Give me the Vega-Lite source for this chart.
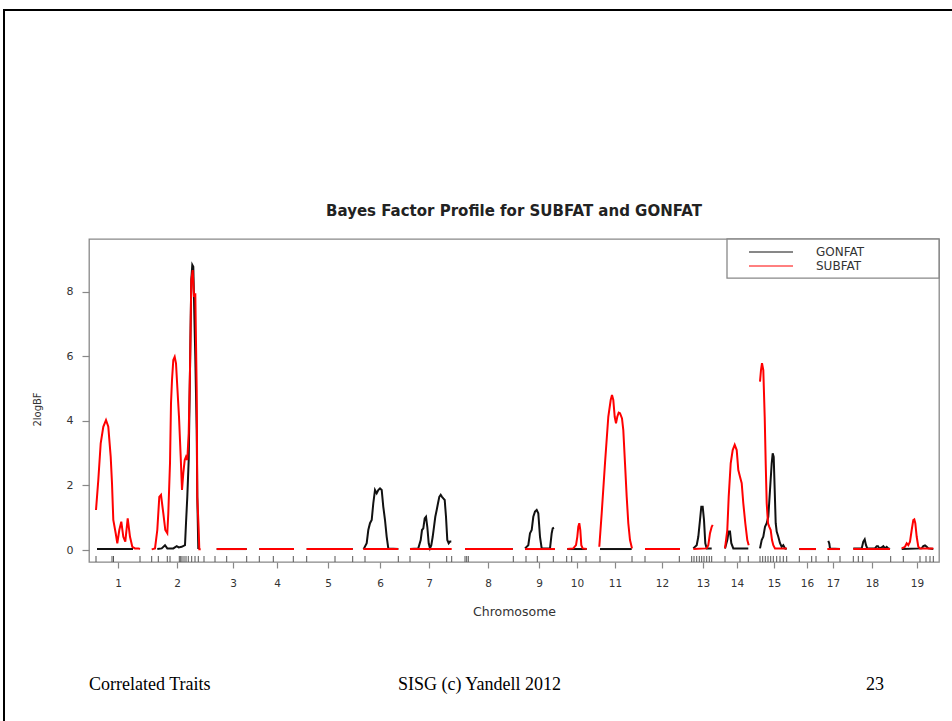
{
  "$schema": "https://vega.github.io/schema/vega-lite/v6.json",
  "width": 850,
  "height": 323,
  "autosize": {"type": "none"},
  "padding": {"left": 89, "top": 239, "right": 13, "bottom": 159},
  "background": "white",
  "title": {
    "text": "Bayes Factor Profile for SUBFAT and GONFAT",
    "frame": "group",
    "font": "DejaVu Sans",
    "fontSize": 15,
    "fontWeight": "bold",
    "color": "#222",
    "anchor": "middle",
    "baseline": "alphabetic",
    "offset": 0,
    "dy": 222
  },
  "datasets": {
    "profile": [
      {"trait":"GONFAT","chrom":1,"pos":8,"bf":0.03},{"trait":"GONFAT","chrom":1,"pos":44,"bf":0.03},
      {"trait":"GONFAT","chrom":2,"pos":68.3,"bf":0.03},{"trait":"GONFAT","chrom":2,"pos":72.7,"bf":0.05},{"trait":"GONFAT","chrom":2,"pos":76,"bf":0.15},{"trait":"GONFAT","chrom":2,"pos":78.3,"bf":0.05},{"trait":"GONFAT","chrom":2,"pos":84.3,"bf":0.05},{"trait":"GONFAT","chrom":2,"pos":87.7,"bf":0.12},{"trait":"GONFAT","chrom":2,"pos":89.7,"bf":0.08},{"trait":"GONFAT","chrom":2,"pos":92.7,"bf":0.10},{"trait":"GONFAT","chrom":2,"pos":96,"bf":0.15},{"trait":"GONFAT","chrom":2,"pos":97,"bf":0.83},{"trait":"GONFAT","chrom":2,"pos":98.3,"bf":1.65},{"trait":"GONFAT","chrom":2,"pos":99.7,"bf":2.79},{"trait":"GONFAT","chrom":2,"pos":101,"bf":5.58},{"trait":"GONFAT","chrom":2,"pos":102.3,"bf":8.37},{"trait":"GONFAT","chrom":2,"pos":103.3,"bf":8.84},{"trait":"GONFAT","chrom":2,"pos":104.3,"bf":8.78},{"trait":"GONFAT","chrom":2,"pos":105.3,"bf":7.34},{"trait":"GONFAT","chrom":2,"pos":106.3,"bf":5.99},{"trait":"GONFAT","chrom":2,"pos":107.7,"bf":3.72},{"trait":"GONFAT","chrom":2,"pos":108.3,"bf":1.65},{"trait":"GONFAT","chrom":2,"pos":109.3,"bf":0.03},
      {"trait":"GONFAT","chrom":3,"pos":127.7,"bf":0.03},{"trait":"GONFAT","chrom":3,"pos":157.7,"bf":0.03},
      {"trait":"GONFAT","chrom":4,"pos":170.3,"bf":0.03},{"trait":"GONFAT","chrom":4,"pos":205,"bf":0.03},
      {"trait":"GONFAT","chrom":5,"pos":217.7,"bf":0.03},{"trait":"GONFAT","chrom":5,"pos":263.7,"bf":0.03},
      {"trait":"GONFAT","chrom":6,"pos":274.3,"bf":0.03},{"trait":"GONFAT","chrom":6,"pos":275,"bf":0.05},{"trait":"GONFAT","chrom":6,"pos":277.7,"bf":0.21},{"trait":"GONFAT","chrom":6,"pos":279.3,"bf":0.62},{"trait":"GONFAT","chrom":6,"pos":281,"bf":0.83},{"trait":"GONFAT","chrom":6,"pos":282.7,"bf":0.93},{"trait":"GONFAT","chrom":6,"pos":284.3,"bf":1.45},{"trait":"GONFAT","chrom":6,"pos":286,"bf":1.86},{"trait":"GONFAT","chrom":6,"pos":287.7,"bf":1.76},{"trait":"GONFAT","chrom":6,"pos":289.3,"bf":1.86},{"trait":"GONFAT","chrom":6,"pos":291,"bf":1.91},{"trait":"GONFAT","chrom":6,"pos":292.7,"bf":1.86},{"trait":"GONFAT","chrom":6,"pos":294.3,"bf":1.34},{"trait":"GONFAT","chrom":6,"pos":296,"bf":0.93},{"trait":"GONFAT","chrom":6,"pos":297.7,"bf":0.41},{"trait":"GONFAT","chrom":6,"pos":299.3,"bf":0.05},{"trait":"GONFAT","chrom":6,"pos":309.3,"bf":0.03},
      {"trait":"GONFAT","chrom":7,"pos":321,"bf":0.03},{"trait":"GONFAT","chrom":7,"pos":329.3,"bf":0.05},{"trait":"GONFAT","chrom":7,"pos":331.7,"bf":0.31},{"trait":"GONFAT","chrom":7,"pos":333,"bf":0.62},{"trait":"GONFAT","chrom":7,"pos":334.3,"bf":0.67},{"trait":"GONFAT","chrom":7,"pos":335.7,"bf":0.98},{"trait":"GONFAT","chrom":7,"pos":337,"bf":1.03},{"trait":"GONFAT","chrom":7,"pos":338.3,"bf":0.72},{"trait":"GONFAT","chrom":7,"pos":339.7,"bf":0.21},{"trait":"GONFAT","chrom":7,"pos":341,"bf":0.05},{"trait":"GONFAT","chrom":7,"pos":342.3,"bf":0.15},{"trait":"GONFAT","chrom":7,"pos":343.7,"bf":0.41},{"trait":"GONFAT","chrom":7,"pos":345,"bf":0.72},{"trait":"GONFAT","chrom":7,"pos":346.3,"bf":1.03},{"trait":"GONFAT","chrom":7,"pos":347.7,"bf":1.24},{"trait":"GONFAT","chrom":7,"pos":349,"bf":1.45},{"trait":"GONFAT","chrom":7,"pos":350.3,"bf":1.65},{"trait":"GONFAT","chrom":7,"pos":351.7,"bf":1.71},{"trait":"GONFAT","chrom":7,"pos":353,"bf":1.65},{"trait":"GONFAT","chrom":7,"pos":354.3,"bf":1.60},{"trait":"GONFAT","chrom":7,"pos":355.7,"bf":1.55},{"trait":"GONFAT","chrom":7,"pos":357,"bf":1.03},{"trait":"GONFAT","chrom":7,"pos":358.3,"bf":0.31},{"trait":"GONFAT","chrom":7,"pos":359.7,"bf":0.21},{"trait":"GONFAT","chrom":7,"pos":361,"bf":0.26},{"trait":"GONFAT","chrom":7,"pos":362.3,"bf":0.26},
      {"trait":"GONFAT","chrom":8,"pos":376,"bf":0.03},{"trait":"GONFAT","chrom":8,"pos":423.7,"bf":0.03},
      {"trait":"GONFAT","chrom":9,"pos":436,"bf":0.05},{"trait":"GONFAT","chrom":9,"pos":439.3,"bf":0.15},{"trait":"GONFAT","chrom":9,"pos":441,"bf":0.52},{"trait":"GONFAT","chrom":9,"pos":442.7,"bf":0.62},{"trait":"GONFAT","chrom":9,"pos":444.3,"bf":1.03},{"trait":"GONFAT","chrom":9,"pos":446,"bf":1.19},{"trait":"GONFAT","chrom":9,"pos":447.7,"bf":1.24},{"trait":"GONFAT","chrom":9,"pos":449.3,"bf":1.14},{"trait":"GONFAT","chrom":9,"pos":451,"bf":0.41},{"trait":"GONFAT","chrom":9,"pos":452.7,"bf":0.05},{"trait":"GONFAT","chrom":9,"pos":461,"bf":0.05},{"trait":"GONFAT","chrom":9,"pos":462.7,"bf":0.52},{"trait":"GONFAT","chrom":9,"pos":463.7,"bf":0.67},{"trait":"GONFAT","chrom":9,"pos":465,"bf":0.69},
      {"trait":"GONFAT","chrom":10,"pos":478.3,"bf":0.03},{"trait":"GONFAT","chrom":10,"pos":497.7,"bf":0.03},
      {"trait":"GONFAT","chrom":11,"pos":511,"bf":0.03},{"trait":"GONFAT","chrom":11,"pos":542.7,"bf":0.03},
      {"trait":"GONFAT","chrom":12,"pos":556,"bf":0.03},{"trait":"GONFAT","chrom":12,"pos":591,"bf":0.03},
      {"trait":"GONFAT","chrom":13,"pos":604.3,"bf":0.05},{"trait":"GONFAT","chrom":13,"pos":607.7,"bf":0.15},{"trait":"GONFAT","chrom":13,"pos":609.3,"bf":0.41},{"trait":"GONFAT","chrom":13,"pos":611,"bf":0.93},{"trait":"GONFAT","chrom":13,"pos":612.3,"bf":1.34},{"trait":"GONFAT","chrom":13,"pos":613.7,"bf":1.34},{"trait":"GONFAT","chrom":13,"pos":615,"bf":0.93},{"trait":"GONFAT","chrom":13,"pos":616.3,"bf":0.21},{"trait":"GONFAT","chrom":13,"pos":617.7,"bf":0.05},{"trait":"GONFAT","chrom":13,"pos":622.7,"bf":0.05},
      {"trait":"GONFAT","chrom":14,"pos":636,"bf":0.05},{"trait":"GONFAT","chrom":14,"pos":638.3,"bf":0.31},{"trait":"GONFAT","chrom":14,"pos":639.7,"bf":0.57},{"trait":"GONFAT","chrom":14,"pos":641,"bf":0.57},{"trait":"GONFAT","chrom":14,"pos":642.3,"bf":0.21},{"trait":"GONFAT","chrom":14,"pos":644.3,"bf":0.05},{"trait":"GONFAT","chrom":14,"pos":659.3,"bf":0.05},
      {"trait":"GONFAT","chrom":15,"pos":671,"bf":0.05},{"trait":"GONFAT","chrom":15,"pos":672.7,"bf":0.31},{"trait":"GONFAT","chrom":15,"pos":674.3,"bf":0.41},{"trait":"GONFAT","chrom":15,"pos":676,"bf":0.72},{"trait":"GONFAT","chrom":15,"pos":677.7,"bf":0.83},{"trait":"GONFAT","chrom":15,"pos":679.3,"bf":1.03},{"trait":"GONFAT","chrom":15,"pos":681,"bf":1.86},{"trait":"GONFAT","chrom":15,"pos":682.7,"bf":2.69},{"trait":"GONFAT","chrom":15,"pos":683.7,"bf":3.00},{"trait":"GONFAT","chrom":15,"pos":684.7,"bf":2.89},{"trait":"GONFAT","chrom":15,"pos":685.7,"bf":1.86},{"trait":"GONFAT","chrom":15,"pos":686.7,"bf":0.83},{"trait":"GONFAT","chrom":15,"pos":687.7,"bf":0.57},{"trait":"GONFAT","chrom":15,"pos":689.3,"bf":0.41},{"trait":"GONFAT","chrom":15,"pos":691,"bf":0.21},{"trait":"GONFAT","chrom":15,"pos":692.7,"bf":0.10},{"trait":"GONFAT","chrom":15,"pos":694.3,"bf":0.15},{"trait":"GONFAT","chrom":15,"pos":696,"bf":0.05},{"trait":"GONFAT","chrom":15,"pos":697.7,"bf":0.03},
      {"trait":"GONFAT","chrom":16,"pos":710.3,"bf":0.03},{"trait":"GONFAT","chrom":16,"pos":727,"bf":0.03},
      {"trait":"GONFAT","chrom":17,"pos":739.3,"bf":0.28},{"trait":"GONFAT","chrom":17,"pos":740.3,"bf":0.2},{"trait":"GONFAT","chrom":17,"pos":741,"bf":0.05},{"trait":"GONFAT","chrom":17,"pos":751,"bf":0.03},
      {"trait":"GONFAT","chrom":18,"pos":764.3,"bf":0.05},{"trait":"GONFAT","chrom":18,"pos":772.7,"bf":0.05},{"trait":"GONFAT","chrom":18,"pos":774.3,"bf":0.26},{"trait":"GONFAT","chrom":18,"pos":775.7,"bf":0.33},{"trait":"GONFAT","chrom":18,"pos":777,"bf":0.15},{"trait":"GONFAT","chrom":18,"pos":778.3,"bf":0.05},{"trait":"GONFAT","chrom":18,"pos":786,"bf":0.05},{"trait":"GONFAT","chrom":18,"pos":787.7,"bf":0.12},{"trait":"GONFAT","chrom":18,"pos":789,"bf":0.12},{"trait":"GONFAT","chrom":18,"pos":790.3,"bf":0.05},{"trait":"GONFAT","chrom":18,"pos":792.7,"bf":0.08},{"trait":"GONFAT","chrom":18,"pos":794.3,"bf":0.12},{"trait":"GONFAT","chrom":18,"pos":796,"bf":0.05},{"trait":"GONFAT","chrom":18,"pos":797.7,"bf":0.10},{"trait":"GONFAT","chrom":18,"pos":799.3,"bf":0.05},{"trait":"GONFAT","chrom":18,"pos":801,"bf":0.03},
      {"trait":"GONFAT","chrom":19,"pos":812.7,"bf":0.03},{"trait":"GONFAT","chrom":19,"pos":832.7,"bf":0.05},{"trait":"GONFAT","chrom":19,"pos":834.3,"bf":0.12},{"trait":"GONFAT","chrom":19,"pos":836,"bf":0.14},{"trait":"GONFAT","chrom":19,"pos":837.7,"bf":0.10},{"trait":"GONFAT","chrom":19,"pos":839.3,"bf":0.05},{"trait":"GONFAT","chrom":19,"pos":844.3,"bf":0.03},

      {"trait":"SUBFAT","chrom":1,"pos":7,"bf":1.24},{"trait":"SUBFAT","chrom":1,"pos":9.3,"bf":2.17},{"trait":"SUBFAT","chrom":1,"pos":11.7,"bf":3.31},{"trait":"SUBFAT","chrom":1,"pos":14.3,"bf":3.82},{"trait":"SUBFAT","chrom":1,"pos":17,"bf":4.03},{"trait":"SUBFAT","chrom":1,"pos":19.3,"bf":3.82},{"trait":"SUBFAT","chrom":1,"pos":21.7,"bf":2.89},{"trait":"SUBFAT","chrom":1,"pos":23,"bf":2.07},{"trait":"SUBFAT","chrom":1,"pos":24.3,"bf":0.93},{"trait":"SUBFAT","chrom":1,"pos":26.7,"bf":0.52},{"trait":"SUBFAT","chrom":1,"pos":28.3,"bf":0.21},{"trait":"SUBFAT","chrom":1,"pos":30.3,"bf":0.62},{"trait":"SUBFAT","chrom":1,"pos":32.3,"bf":0.88},{"trait":"SUBFAT","chrom":1,"pos":34.3,"bf":0.41},{"trait":"SUBFAT","chrom":1,"pos":36.3,"bf":0.26},{"trait":"SUBFAT","chrom":1,"pos":38.7,"bf":0.98},{"trait":"SUBFAT","chrom":1,"pos":41,"bf":0.41},{"trait":"SUBFAT","chrom":1,"pos":43.3,"bf":0.10},{"trait":"SUBFAT","chrom":1,"pos":46,"bf":0.05},{"trait":"SUBFAT","chrom":1,"pos":49.3,"bf":0.05},{"trait":"SUBFAT","chrom":1,"pos":51,"bf":0.03},
      {"trait":"SUBFAT","chrom":2,"pos":62.7,"bf":0.02},{"trait":"SUBFAT","chrom":2,"pos":66,"bf":0.05},{"trait":"SUBFAT","chrom":2,"pos":68.3,"bf":0.62},{"trait":"SUBFAT","chrom":2,"pos":70.3,"bf":1.65},{"trait":"SUBFAT","chrom":2,"pos":72,"bf":1.71},{"trait":"SUBFAT","chrom":2,"pos":74.3,"bf":1.14},{"trait":"SUBFAT","chrom":2,"pos":76.3,"bf":0.62},{"trait":"SUBFAT","chrom":2,"pos":78.3,"bf":0.52},{"trait":"SUBFAT","chrom":2,"pos":79.3,"bf":1.14},{"trait":"SUBFAT","chrom":2,"pos":81,"bf":2.69},{"trait":"SUBFAT","chrom":2,"pos":82,"bf":4.55},{"trait":"SUBFAT","chrom":2,"pos":83,"bf":5.27},{"trait":"SUBFAT","chrom":2,"pos":84.3,"bf":5.89},{"trait":"SUBFAT","chrom":2,"pos":85.7,"bf":5.99},{"trait":"SUBFAT","chrom":2,"pos":87,"bf":5.79},{"trait":"SUBFAT","chrom":2,"pos":88.3,"bf":5.06},{"trait":"SUBFAT","chrom":2,"pos":90,"bf":4.13},{"trait":"SUBFAT","chrom":2,"pos":91.7,"bf":2.89},{"trait":"SUBFAT","chrom":2,"pos":93,"bf":1.86},{"trait":"SUBFAT","chrom":2,"pos":94.3,"bf":2.38},{"trait":"SUBFAT","chrom":2,"pos":95.7,"bf":2.79},{"trait":"SUBFAT","chrom":2,"pos":97,"bf":2.89},{"trait":"SUBFAT","chrom":2,"pos":98.3,"bf":2.79},{"trait":"SUBFAT","chrom":2,"pos":99.7,"bf":3.62},{"trait":"SUBFAT","chrom":2,"pos":101,"bf":5.58},{"trait":"SUBFAT","chrom":2,"pos":102.3,"bf":8.37},{"trait":"SUBFAT","chrom":2,"pos":103.7,"bf":8.68},{"trait":"SUBFAT","chrom":2,"pos":105,"bf":7.85},{"trait":"SUBFAT","chrom":2,"pos":106.3,"bf":7.96},{"trait":"SUBFAT","chrom":2,"pos":107.7,"bf":4.96},{"trait":"SUBFAT","chrom":2,"pos":108.3,"bf":1.65},{"trait":"SUBFAT","chrom":2,"pos":109.7,"bf":0.62},{"trait":"SUBFAT","chrom":2,"pos":110.3,"bf":0.02},{"trait":"SUBFAT","chrom":2,"pos":111.7,"bf":0.02},
      {"trait":"SUBFAT","chrom":3,"pos":127.7,"bf":0.03},{"trait":"SUBFAT","chrom":3,"pos":157.7,"bf":0.03},
      {"trait":"SUBFAT","chrom":4,"pos":170.3,"bf":0.03},{"trait":"SUBFAT","chrom":4,"pos":205,"bf":0.03},
      {"trait":"SUBFAT","chrom":5,"pos":217.7,"bf":0.03},{"trait":"SUBFAT","chrom":5,"pos":263.7,"bf":0.03},
      {"trait":"SUBFAT","chrom":6,"pos":274.3,"bf":0.03},{"trait":"SUBFAT","chrom":6,"pos":309.3,"bf":0.03},
      {"trait":"SUBFAT","chrom":7,"pos":321,"bf":0.03},{"trait":"SUBFAT","chrom":7,"pos":362.7,"bf":0.03},
      {"trait":"SUBFAT","chrom":8,"pos":376,"bf":0.03},{"trait":"SUBFAT","chrom":8,"pos":423.7,"bf":0.03},
      {"trait":"SUBFAT","chrom":9,"pos":436,"bf":0.03},{"trait":"SUBFAT","chrom":9,"pos":466,"bf":0.03},
      {"trait":"SUBFAT","chrom":10,"pos":478.3,"bf":0.03},{"trait":"SUBFAT","chrom":10,"pos":484.3,"bf":0.05},{"trait":"SUBFAT","chrom":10,"pos":487,"bf":0.15},{"trait":"SUBFAT","chrom":10,"pos":488.3,"bf":0.41},{"trait":"SUBFAT","chrom":10,"pos":489.3,"bf":0.72},{"trait":"SUBFAT","chrom":10,"pos":490.3,"bf":0.83},{"trait":"SUBFAT","chrom":10,"pos":491.3,"bf":0.62},{"trait":"SUBFAT","chrom":10,"pos":492.3,"bf":0.15},{"trait":"SUBFAT","chrom":10,"pos":493.7,"bf":0.05},{"trait":"SUBFAT","chrom":10,"pos":497.7,"bf":0.03},
      {"trait":"SUBFAT","chrom":11,"pos":510.3,"bf":0.1},{"trait":"SUBFAT","chrom":11,"pos":512.7,"bf":1.14},{"trait":"SUBFAT","chrom":11,"pos":516,"bf":2.69},{"trait":"SUBFAT","chrom":11,"pos":519.3,"bf":4.13},{"trait":"SUBFAT","chrom":11,"pos":521.7,"bf":4.65},{"trait":"SUBFAT","chrom":11,"pos":523,"bf":4.81},{"trait":"SUBFAT","chrom":11,"pos":524.3,"bf":4.65},{"trait":"SUBFAT","chrom":11,"pos":525.7,"bf":4.13},{"trait":"SUBFAT","chrom":11,"pos":527,"bf":3.93},{"trait":"SUBFAT","chrom":11,"pos":528.3,"bf":4.13},{"trait":"SUBFAT","chrom":11,"pos":529.7,"bf":4.26},{"trait":"SUBFAT","chrom":11,"pos":531,"bf":4.24},{"trait":"SUBFAT","chrom":11,"pos":533,"bf":4.08},{"trait":"SUBFAT","chrom":11,"pos":534.3,"bf":3.72},{"trait":"SUBFAT","chrom":11,"pos":536,"bf":2.69},{"trait":"SUBFAT","chrom":11,"pos":537.7,"bf":1.65},{"trait":"SUBFAT","chrom":11,"pos":539.3,"bf":0.83},{"trait":"SUBFAT","chrom":11,"pos":541,"bf":0.31},{"trait":"SUBFAT","chrom":11,"pos":543,"bf":0.05},
      {"trait":"SUBFAT","chrom":12,"pos":556,"bf":0.03},{"trait":"SUBFAT","chrom":12,"pos":591,"bf":0.03},
      {"trait":"SUBFAT","chrom":13,"pos":604.3,"bf":0.03},{"trait":"SUBFAT","chrom":13,"pos":617.7,"bf":0.05},{"trait":"SUBFAT","chrom":13,"pos":619.3,"bf":0.15},{"trait":"SUBFAT","chrom":13,"pos":621,"bf":0.52},{"trait":"SUBFAT","chrom":13,"pos":622.7,"bf":0.72},{"trait":"SUBFAT","chrom":13,"pos":623.7,"bf":0.78},
      {"trait":"SUBFAT","chrom":14,"pos":636,"bf":0.05},{"trait":"SUBFAT","chrom":14,"pos":638.3,"bf":0.62},{"trait":"SUBFAT","chrom":14,"pos":639.7,"bf":1.65},{"trait":"SUBFAT","chrom":14,"pos":641.7,"bf":2.69},{"trait":"SUBFAT","chrom":14,"pos":643.7,"bf":3.10},{"trait":"SUBFAT","chrom":14,"pos":645.7,"bf":3.26},{"trait":"SUBFAT","chrom":14,"pos":647.7,"bf":3.10},{"trait":"SUBFAT","chrom":14,"pos":649.3,"bf":2.48},{"trait":"SUBFAT","chrom":14,"pos":651,"bf":2.27},{"trait":"SUBFAT","chrom":14,"pos":652.7,"bf":2.07},{"trait":"SUBFAT","chrom":14,"pos":654.3,"bf":1.45},{"trait":"SUBFAT","chrom":14,"pos":656.3,"bf":0.83},{"trait":"SUBFAT","chrom":14,"pos":658.3,"bf":0.31},{"trait":"SUBFAT","chrom":14,"pos":659.7,"bf":0.15},
      {"trait":"SUBFAT","chrom":15,"pos":671,"bf":5.22},{"trait":"SUBFAT","chrom":15,"pos":672,"bf":5.58},{"trait":"SUBFAT","chrom":15,"pos":673,"bf":5.79},{"trait":"SUBFAT","chrom":15,"pos":674.3,"bf":5.58},{"trait":"SUBFAT","chrom":15,"pos":675.7,"bf":4.13},{"trait":"SUBFAT","chrom":15,"pos":676.7,"bf":2.69},{"trait":"SUBFAT","chrom":15,"pos":677.7,"bf":1.45},{"trait":"SUBFAT","chrom":15,"pos":679,"bf":0.83},{"trait":"SUBFAT","chrom":15,"pos":680.3,"bf":0.72},{"trait":"SUBFAT","chrom":15,"pos":681.7,"bf":0.62},{"trait":"SUBFAT","chrom":15,"pos":683,"bf":0.31},{"trait":"SUBFAT","chrom":15,"pos":684.3,"bf":0.15},{"trait":"SUBFAT","chrom":15,"pos":686,"bf":0.05},{"trait":"SUBFAT","chrom":15,"pos":697.7,"bf":0.05},
      {"trait":"SUBFAT","chrom":16,"pos":710.3,"bf":0.03},{"trait":"SUBFAT","chrom":16,"pos":727,"bf":0.03},
      {"trait":"SUBFAT","chrom":17,"pos":738.3,"bf":0.03},{"trait":"SUBFAT","chrom":17,"pos":751,"bf":0.03},
      {"trait":"SUBFAT","chrom":18,"pos":764.3,"bf":0.03},{"trait":"SUBFAT","chrom":18,"pos":801,"bf":0.03},
      {"trait":"SUBFAT","chrom":19,"pos":812.7,"bf":0.05},{"trait":"SUBFAT","chrom":19,"pos":816,"bf":0.10},{"trait":"SUBFAT","chrom":19,"pos":817.7,"bf":0.21},{"trait":"SUBFAT","chrom":19,"pos":819.3,"bf":0.15},{"trait":"SUBFAT","chrom":19,"pos":821,"bf":0.26},{"trait":"SUBFAT","chrom":19,"pos":822.7,"bf":0.62},{"trait":"SUBFAT","chrom":19,"pos":824.3,"bf":0.93},{"trait":"SUBFAT","chrom":19,"pos":825.3,"bf":0.95},{"trait":"SUBFAT","chrom":19,"pos":826.3,"bf":0.83},{"trait":"SUBFAT","chrom":19,"pos":827.7,"bf":0.41},{"trait":"SUBFAT","chrom":19,"pos":829.3,"bf":0.10},{"trait":"SUBFAT","chrom":19,"pos":831,"bf":0.05},{"trait":"SUBFAT","chrom":19,"pos":844.3,"bf":0.05}
    ],
    "markers": [
      {"pos":7},{"pos":23},{"pos":24.5},{"pos":51},{"pos":62.7},{"pos":69.3},{"pos":78.3},{"pos":81},{"pos":90.3},{"pos":91.7},{"pos":93},{"pos":95},{"pos":97},{"pos":99.3},{"pos":102.7},{"pos":106},{"pos":109.3},{"pos":115},{"pos":126},{"pos":137.7},{"pos":157.7},{"pos":170.3},{"pos":184.3},{"pos":204.3},{"pos":217.7},{"pos":246},{"pos":263.7},{"pos":276},{"pos":309.3},{"pos":321},{"pos":357.7},{"pos":362.7},{"pos":376},{"pos":377.7},{"pos":379.3},{"pos":424.3},{"pos":437},{"pos":448.3},{"pos":464.3},{"pos":477.7},{"pos":482.7},{"pos":497},{"pos":511},{"pos":543},{"pos":556},{"pos":590.3},{"pos":602.7},{"pos":605},{"pos":607.7},{"pos":610.3},{"pos":612.7},{"pos":615},{"pos":617.7},{"pos":620.3},{"pos":622.7},{"pos":636},{"pos":651},{"pos":659.3},{"pos":671},{"pos":673.7},{"pos":676.3},{"pos":679},{"pos":681.7},{"pos":684.3},{"pos":687.7},{"pos":691},{"pos":694.3},{"pos":697.7},{"pos":710.3},{"pos":722.7},{"pos":727},{"pos":739.3},{"pos":751},{"pos":764.3},{"pos":769.3},{"pos":773.7},{"pos":801.7},{"pos":814.3},{"pos":831},{"pos":837},{"pos":841},{"pos":844.3}
    ]
  },
  "layer": [
    {
      "description": "slide frame",
      "data": {"values": [{}]},
      "mark": {"type": "rect", "x": -85, "y": -229, "x2": 875, "y2": 495, "fill": "transparent", "stroke": "black", "strokeWidth": 2}
    },
    {
      "description": "marker rug along the bottom of the plot",
      "data": {"name": "markers"},
      "mark": {"type": "rule", "color": "#555", "strokeWidth": 1},
      "encoding": {
        "x": {"field": "pos", "type": "quantitative", "title": "Chromosome"},
        "y": {"datum": -0.372, "type": "quantitative", "title": "2logBF"},
        "y2": {"datum": -0.186}
      }
    },
    {
      "description": "2logBF profiles, one path per chromosome",
      "data": {"name": "profile"},
      "mark": {"type": "line", "strokeWidth": 2},
      "encoding": {
        "x": {
          "field": "pos",
          "type": "quantitative",
          "scale": {"domain": [0, 850], "nice": false, "zero": false},
          "axis": {
            "values": [29, 88, 144, 188, 239, 291, 340, 399, 450, 488, 526, 573, 614, 648, 685, 718, 744, 783, 828],
            "labelExpr": "indexof([29, 88, 144, 188, 239, 291, 340, 399, 450, 488, 526, 573, 614, 648, 685, 718, 744, 783, 828], datum.value) + 1",
            "tickSize": 6,
            "labelPadding": 15,
            "labelBaseline": "middle",
            "labelFontSize": 10.5,
            "labelOverlap": false,
            "labelFlush": false,
            "title": "Chromosome",
            "titleFontSize": 12.5,
            "titleY": 49,
            "titleBaseline": "middle"
          }
        },
        "y": {
          "field": "bf",
          "type": "quantitative",
          "scale": {"domain": [-0.372, 9.643], "nice": false, "zero": false},
          "axis": {
            "values": [0, 2, 4, 6, 8],
            "tickSize": 7,
            "labelPadding": 9,
            "labelFontSize": 11,
            "title": "2logBF",
            "titleFontSize": 10,
            "titleX": -52,
            "titleY": 170,
            "titleAlign": "center",
            "titleBaseline": "middle"
          }
        },
        "color": {
          "field": "trait",
          "type": "nominal",
          "scale": {"domain": ["GONFAT", "SUBFAT"], "range": ["#111111", "#ff0000"]},
          "legend": {
            "orient": "none",
            "legendX": 645,
            "legendY": 7,
            "title": null,
            "symbolType": "M-4,0H4",
            "symbolSize": 121,
            "symbolStrokeWidth": 1,
            "symbolOffset": 31,
            "labelFontSize": 12,
            "labelOffset": 39,
            "labelColor": "#333",
            "padding": 0,
            "rowPadding": 2
          }
        },
        "detail": {"field": "chrom", "type": "nominal"}
      }
    },
    {
      "description": "legend frame, spanning to the right edge of the plot",
      "data": {"values": [{}]},
      "mark": {"type": "rect", "fill": "white", "stroke": "#888", "strokeWidth": 1.3},
      "encoding": {
        "x": {"datum": 638},
        "x2": {"datum": 850},
        "y": {"datum": 9.643},
        "y2": {"datum": 8.43}
      }
    },
    {
      "data": {"values": [{}]},
      "mark": {"type": "text", "text": "Correlated Traits", "x": 0, "y": 451, "align": "left", "baseline": "alphabetic", "font": "Liberation Serif", "fontSize": 18, "color": "black"}
    },
    {
      "data": {"values": [{}]},
      "mark": {"type": "text", "text": "SISG (c) Yandell 2012", "x": 309, "y": 451, "align": "left", "baseline": "alphabetic", "font": "Liberation Serif", "fontSize": 18, "color": "black"}
    },
    {
      "data": {"values": [{}]},
      "mark": {"type": "text", "text": "23", "x": 777, "y": 451, "align": "left", "baseline": "alphabetic", "font": "Liberation Serif", "fontSize": 18, "color": "black"}
    }
  ],
  "config": {
    "view": {"stroke": "#888", "strokeWidth": 1.3},
    "font": "DejaVu Sans",
    "axis": {
      "domain": false,
      "grid": false,
      "tickColor": "#888",
      "tickWidth": 1.2,
      "labelColor": "#333",
      "labelFont": "DejaVu Sans",
      "titleFont": "DejaVu Sans",
      "titleFontWeight": "normal",
      "titleColor": "#333"
    },
    "legend": {"labelFont": "DejaVu Sans"}
  }
}
